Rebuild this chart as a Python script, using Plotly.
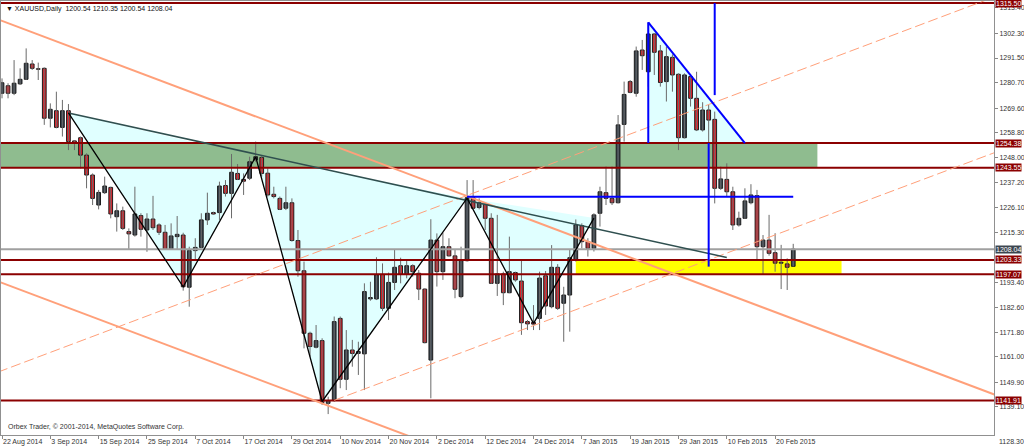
import plotly.graph_objects as go

# ---------------- data ----------------
bar_index = list(range(132))
opens = [1276.1, 1279.4, 1276.1, 1280.2, 1282.2, 1288.9, 1286.8, 1287.0, 1265.2, 1268.5,
         1261.2, 1268.5, 1255.3, 1256.7, 1249.1, 1240.4, 1227.3, 1232.7, 1235.0, 1222.2,
         1224.8, 1215.7, 1214.2, 1222.7, 1216.4, 1221.2, 1218.6, 1215.4, 1208.0, 1213.5,
         1214.2, 1191.4, 1207.4, 1208.8, 1220.8, 1224.0, 1224.0, 1235.8, 1232.4, 1241.1,
         1238.5, 1239.0, 1247.0, 1248.1, 1241.2, 1232.0, 1230.2, 1225.9, 1228.3, 1211.8,
         1198.6, 1171.3, 1165.2, 1168.1, 1140.7, 1141.9, 1177.8, 1151.2, 1164.0, 1162.5,
         1162.3, 1186.3, 1186.3, 1197.0, 1182.2, 1193.5, 1200.8, 1197.0, 1200.8, 1197.5,
         1190.6, 1159.6, 1212.0, 1198.2, 1209.1, 1205.1, 1187.3, 1203.0, 1230.5, 1226.2,
         1227.6, 1221.5, 1193.1, 1197.2, 1189.0, 1197.8, 1194.1, 1176.4, 1176.1, 1177.8,
         1196.4, 1182.9, 1200.1, 1184.4, 1188.0, 1203.3, 1218.3, 1211.3, 1208.4, 1223.7,
         1232.7, 1230.2, 1228.3, 1262.5, 1281.2, 1276.1, 1295.0, 1285.5, 1302.0, 1294.6,
         1281.2, 1291.8, 1284.4, 1256.7, 1283.4, 1273.9, 1260.1, 1268.8, 1264.7, 1234.6,
         1238.5, 1233.1, 1218.6, 1221.5, 1228.3, 1231.4, 1209.1, 1212.0, 1206.5, 1201.9,
         1201.6, 1200.54]
highs = [1282.6, 1280.5, 1290.6, 1287.0, 1295.7, 1290.6, 1289.5, 1287.4, 1271.7, 1276.8,
         1273.2, 1271.4, 1255.7, 1257.2, 1249.9, 1241.1, 1233.9, 1239.7, 1235.3, 1228.0,
         1226.6, 1217.1, 1235.3, 1223.7, 1223.7, 1231.3, 1219.3, 1218.6, 1219.3, 1222.5,
         1215.2, 1209.1, 1212.8, 1223.7, 1232.7, 1224.4, 1237.5, 1238.2, 1249.6, 1245.2,
         1241.1, 1248.4, 1255.0, 1249.1, 1243.3, 1235.3, 1231.0, 1235.3, 1230.2, 1216.4,
         1202.6, 1172.0, 1174.9, 1169.1, 1143.6, 1178.6, 1178.6, 1172.7, 1168.4, 1167.6,
         1193.1, 1193.8, 1204.5, 1201.8, 1197.8, 1207.7, 1204.3, 1202.9, 1201.4, 1198.9,
         1190.9, 1221.1, 1214.9, 1215.2, 1212.8, 1207.7, 1209.1, 1238.2, 1238.2, 1230.2,
         1228.0, 1223.7, 1223.0, 1198.2, 1213.5, 1198.2, 1203.3, 1177.1, 1183.6, 1198.2,
         1198.5, 1209.8, 1201.5, 1191.6, 1207.7, 1221.0, 1219.3, 1212.8, 1223.7, 1235.3,
         1244.1, 1244.1, 1266.6, 1281.2, 1281.9, 1296.5, 1299.4, 1307.1, 1302.3, 1297.2,
         1296.5, 1293.1, 1284.8, 1284.8, 1284.1, 1285.5, 1272.2, 1271.0, 1268.1, 1244.1,
         1245.5, 1235.3, 1224.4, 1234.6, 1236.4, 1233.9, 1214.2, 1223.0, 1215.0, 1209.9,
         1204.0, 1210.35]
lows = [1273.9, 1273.9, 1275.3, 1279.7, 1281.9, 1286.3, 1281.9, 1262.3, 1261.2, 1260.8,
        1257.2, 1251.3, 1251.3, 1243.3, 1234.6, 1227.3, 1225.4, 1232.1, 1221.5, 1215.7,
        1216.4, 1207.7, 1213.5, 1213.5, 1206.9, 1216.4, 1214.2, 1207.7, 1207.7, 1207.7,
        1189.9, 1182.9, 1203.3, 1208.4, 1218.6, 1223.0, 1220.8, 1231.0, 1221.5, 1238.2,
        1231.7, 1238.2, 1246.2, 1239.7, 1231.0, 1230.2, 1225.1, 1225.1, 1211.3, 1196.0,
        1164.7, 1161.1, 1164.7, 1140.0, 1136.0, 1141.4, 1147.3, 1146.5, 1156.7, 1153.1,
        1146.5, 1185.5, 1185.8, 1181.0, 1177.1, 1190.2, 1193.1, 1195.3, 1196.0, 1185.8,
        1166.9, 1142.9, 1191.7, 1194.6, 1204.8, 1186.6, 1186.6, 1202.6, 1225.4, 1225.4,
        1216.4, 1192.8, 1187.6, 1183.6, 1188.8, 1193.8, 1170.6, 1172.7, 1172.7, 1172.7,
        1179.3, 1182.2, 1181.5, 1167.6, 1172.0, 1202.6, 1208.4, 1204.8, 1207.0, 1217.9,
        1227.3, 1227.3, 1228.0, 1255.0, 1276.1, 1274.6, 1286.3, 1279.0, 1284.1, 1279.0,
        1272.5, 1276.8, 1251.3, 1256.4, 1270.3, 1259.6, 1259.4, 1254.3, 1228.0, 1233.9,
        1231.0, 1216.4, 1217.9, 1221.2, 1227.6, 1203.3, 1197.0, 1205.2, 1198.2, 1190.6,
        1190.2, 1200.54]
closes = [1280.7, 1276.1, 1280.5, 1282.2, 1289.2, 1287.0, 1286.6, 1265.2, 1269.1, 1261.2,
          1268.5, 1255.0, 1254.3, 1249.1, 1240.4, 1230.2, 1232.8, 1235.6, 1223.4, 1224.8,
          1217.1, 1214.7, 1223.4, 1216.7, 1221.2, 1217.4, 1215.4, 1208.0, 1213.8, 1214.5,
          1191.6, 1207.4, 1208.8, 1220.8, 1223.7, 1223.4, 1235.6, 1232.4, 1241.6, 1238.5,
          1237.7, 1246.2, 1248.4, 1241.1, 1231.7, 1231.0, 1225.4, 1228.3, 1211.8, 1198.6,
          1171.3, 1165.5, 1168.1, 1141.0, 1141.9, 1176.4, 1151.2, 1164.0, 1162.5, 1163.3,
          1189.5, 1186.9, 1196.8, 1182.2, 1193.5, 1200.1, 1197.0, 1200.8, 1198.2, 1190.6,
          1167.2, 1212.0, 1198.2, 1209.1, 1205.1, 1190.5, 1203.0, 1230.5, 1225.9, 1228.3,
          1221.5, 1193.1, 1197.2, 1189.0, 1198.2, 1194.6, 1175.9, 1175.4, 1175.3, 1195.4,
          1183.2, 1200.1, 1182.2, 1188.0, 1204.3, 1218.6, 1211.3, 1208.4, 1223.0, 1233.1,
          1230.2, 1228.3, 1262.3, 1275.6, 1276.5, 1294.6, 1292.5, 1302.0, 1294.0, 1280.8,
          1292.1, 1284.1, 1256.7, 1284.1, 1273.9, 1260.1, 1268.8, 1264.4, 1234.6, 1238.7,
          1233.1, 1218.6, 1221.5, 1229.1, 1231.7, 1209.1, 1212.0, 1206.2, 1201.9, 1202.3,
          1200.1, 1208.04]

x_tick_bars = [0, 8, 16, 24, 32, 40, 48, 56, 64, 72, 80, 88, 96, 104, 112, 120, 128]
x_tick_labels = ["22 Aug 2014", "3 Sep 2014", "15 Sep 2014", "25 Sep 2014", "7 Oct 2014",
                 "17 Oct 2014", "29 Oct 2014", "10 Nov 2014", "20 Nov 2014", "2 Dec 2014",
                 "12 Dec 2014", "24 Dec 2014", "7 Jan 2015", "19 Jan 2015", "29 Jan 2015",
                 "10 Feb 2015", "20 Feb 2015"]
y_tick_values = [1313.40, 1302.30, 1291.50, 1280.70, 1269.60, 1258.80, 1248.00, 1237.20,
                 1226.10, 1215.30, 1193.40, 1182.60, 1171.80, 1161.00, 1149.90, 1139.10]
y_bottom_label = 1128.30

level_prices = [1315.50, 1254.38, 1243.55, 1203.33, 1197.07, 1141.91]
bid_price = closes[-1]

green_zone_prices = [1243.55, 1254.38]
green_zone_bars = [-5, 135]
yellow_zone_prices = [1197.07, 1203.33]
yellow_zone_bars = [95, 139]

zigzag_bars = [11, 30, 42, 53, 77, 88, 98]
zigzag_prices = [1267.5, 1191.6, 1248.4, 1141.5, 1230.3, 1175.6, 1221.6]

neckline_bars = [11, 120]
neckline_prices = [1267.5, 1204.4]

channel_upper_bars, channel_upper_prices = [0, 131], [1307.7, 1177.6]
channel_lower_bars, channel_lower_prices = [0, 131], [1193.3, 1063.2]
dashed_upper_bars, dashed_upper_prices = [0, 131], [1155.0, 1285.1]
dashed_lower_bars, dashed_lower_prices = [55, 131], [1142.0, 1217.2]

flag_bars = [107, 107, 123]
flag_prices = [1307.1, 1254.38, 1254.38]

measure_top_bar, measure_top_prices = 118, [1315.5, 1275.3]
measure_bottom_bar, measure_bottom_prices = 117, [1254.38, 1200.4]
target_bars, target_price = [77, 131], 1230.9

X_RANGE = [-0.166, 164.24]
Y_RANGE = [1126.87, 1316.40]

FONT = "Liberation Sans, Arial, DejaVu Sans"
BULL = "#36414c"
BEAR = "#e8202a"
SALMON = "#ffa07a"
DARKRED = "#8b0000"


def extend(bars, prices, x0, x1):
    slope = (prices[1] - prices[0]) / (bars[1] - bars[0])
    return [x0, x1], [prices[0] + slope * (x0 - bars[0]), prices[0] + slope * (x1 - bars[0])]


fig = go.Figure()

# ---------------- background objects (shapes below traces) ----------------
shapes = []
triangles = [
    (zigzag_bars[0:3], zigzag_prices[0:3]),
    (zigzag_bars[2:5], zigzag_prices[2:5]),
    (zigzag_bars[4:7], zigzag_prices[4:7]),
    (flag_bars, flag_prices),
]
for tb, tp in triangles:
    path = "M {},{} L {},{} L {},{} Z".format(tb[0], tp[0], tb[1], tp[1], tb[2], tp[2])
    shapes.append(dict(type="path", path=path, xref="x", yref="y", layer="below",
                       fillcolor="#e0ffff", line=dict(width=0)))
shapes.append(dict(type="rect", xref="x", yref="y", layer="below",
                   x0=green_zone_bars[0], x1=green_zone_bars[1],
                   y0=green_zone_prices[0], y1=green_zone_prices[1],
                   fillcolor="#8fbc8f", line=dict(width=0)))
shapes.append(dict(type="rect", xref="x", yref="y", layer="below",
                   x0=yellow_zone_bars[0], x1=yellow_zone_bars[1],
                   y0=yellow_zone_prices[0], y1=yellow_zone_prices[1],
                   fillcolor="#ffff00", line=dict(width=0)))

# ---------------- candles ----------------
wx, wy = [], []
for i, h, l in zip(bar_index, highs, lows):
    wx += [i, i, None]
    wy += [l, h, None]
fig.add_trace(go.Scatter(x=wx, y=wy, mode="lines", line=dict(color="#6a6a6a", width=1),
                         hoverinfo="skip"))
fig.add_trace(go.Bar(
    x=bar_index,
    base=[min(o, c) for o, c in zip(opens, closes)],
    y=[abs(c - o) for o, c in zip(opens, closes)],
    width=0.62,
    marker=dict(color=[BULL if c >= o else BEAR for o, c in zip(opens, closes)],
                line=dict(color="#1c1c1c", width=1)),
    hoverinfo="skip"))

# ---------------- drawn lines ----------------
def add_line(x, y, color, width, dash="solid"):
    fig.add_trace(go.Scatter(x=x, y=y, mode="lines", hoverinfo="skip",
                             line=dict(color=color, width=width, dash=dash)))

# horizontal levels
for p in level_prices:
    add_line([X_RANGE[0] - 5, X_RANGE[1] + 5], [p, p], DARKRED, 2)
add_line([X_RANGE[0] - 5, X_RANGE[1] + 5], [bid_price, bid_price], "#a0a0a0", 2)

# channels
add_line(*extend(channel_upper_bars, channel_upper_prices, -5, 170), SALMON, 2)
add_line(*extend(channel_lower_bars, channel_lower_prices, -5, 170), SALMON, 2)
add_line(*extend(dashed_upper_bars, dashed_upper_prices, -5, 170), SALMON, 1, "10px,4px")
add_line(*extend(dashed_lower_bars, dashed_lower_prices, dashed_lower_bars[0], 170),
         SALMON, 1, "10px,4px")

# neckline & zigzag
add_line(neckline_bars, neckline_prices, "#2f4f4f", 1.5)
add_line(zigzag_bars, zigzag_prices, "#000000", 1.3)

# blue measured move
add_line([flag_bars[0], flag_bars[2]], [flag_prices[0], flag_prices[2]], "#0000ff", 2)
add_line(flag_bars[0:2], flag_prices[0:2], "#0000ff", 2)
add_line([measure_top_bar] * 2, measure_top_prices, "#0000ff", 2)
add_line([measure_bottom_bar] * 2, measure_bottom_prices, "#0000ff", 2)
add_line(target_bars, [target_price, target_price], "#0000ff", 2)

# ---------------- annotations ----------------
ann = []
for p in level_prices:
    ann.append(dict(xref="paper", yref="y", x=1, y=p, xanchor="left", yanchor="middle",
                    xshift=1, text="{:.2f}".format(p), showarrow=False,
                    bgcolor=DARKRED, borderpad=0,
                    font=dict(family=FONT, size=7, color="white")))
ann.append(dict(xref="paper", yref="y", x=1, y=bid_price, xanchor="left", yanchor="middle",
                xshift=1, text="{:.2f}".format(bid_price), showarrow=False,
                bgcolor="#3c4650", borderpad=0,
                font=dict(family=FONT, size=7, color="white")))
ann.append(dict(xref="paper", yref="paper", x=1, y=0, xanchor="left", yanchor="middle",
                xshift=3, yshift=-6, text="{:.2f}".format(y_bottom_label), showarrow=False,
                font=dict(family=FONT, size=7, color="#333333")))
header = "\u25bc XAUUSD,Daily\u00a0\u00a0{:.2f} {:.2f} {:.2f} {:.2f}".format(
    opens[-1], highs[-1], lows[-1], closes[-1])
ann.append(dict(xref="paper", yref="paper", x=0, y=1, xanchor="left", yanchor="top",
                xshift=3, yshift=-2, text=header, showarrow=False,
                font=dict(family=FONT, size=7, color="#111111")))
ann.append(dict(xref="paper", yref="paper", x=0, y=0, xanchor="left", yanchor="bottom",
                xshift=5, yshift=2,
                text="Orbex Trader, \u00a9 2001-2014, MetaQuotes Software Corp.",
                showarrow=False, font=dict(family=FONT, size=7, color="#333333")))

fig.update_layout(
    width=1024, height=448,
    margin=dict(l=1, r=30, t=1, b=13, autoexpand=False),
    paper_bgcolor="white", plot_bgcolor="white",
    showlegend=False, barmode="overlay",
    shapes=shapes, annotations=ann,
    xaxis=dict(range=X_RANGE, tickvals=x_tick_bars, ticktext=x_tick_labels,
               ticks="outside", ticklen=3, tickcolor="#888888", tickangle=0,
               ticklabelposition="outside right", automargin=False,
               showgrid=False, zeroline=False, showline=True, mirror=True,
               linecolor="#909090", linewidth=1,
               tickfont=dict(family=FONT, size=7, color="#333333")),
    yaxis=dict(range=Y_RANGE, side="right", tickvals=y_tick_values,
               ticktext=["{:.2f}".format(v) for v in y_tick_values],
               ticks="outside", ticklen=3, tickcolor="#888888", automargin=False,
               showgrid=False, zeroline=False, showline=True, mirror=True,
               linecolor="#909090", linewidth=1,
               tickfont=dict(family=FONT, size=7, color="#333333")),
)

fig.write_html("out.html", config={"displayModeBar": False},
               post_script="document.body.style.margin='0';document.body.style.padding='0';"
                           "document.body.style.overflow='hidden';")
